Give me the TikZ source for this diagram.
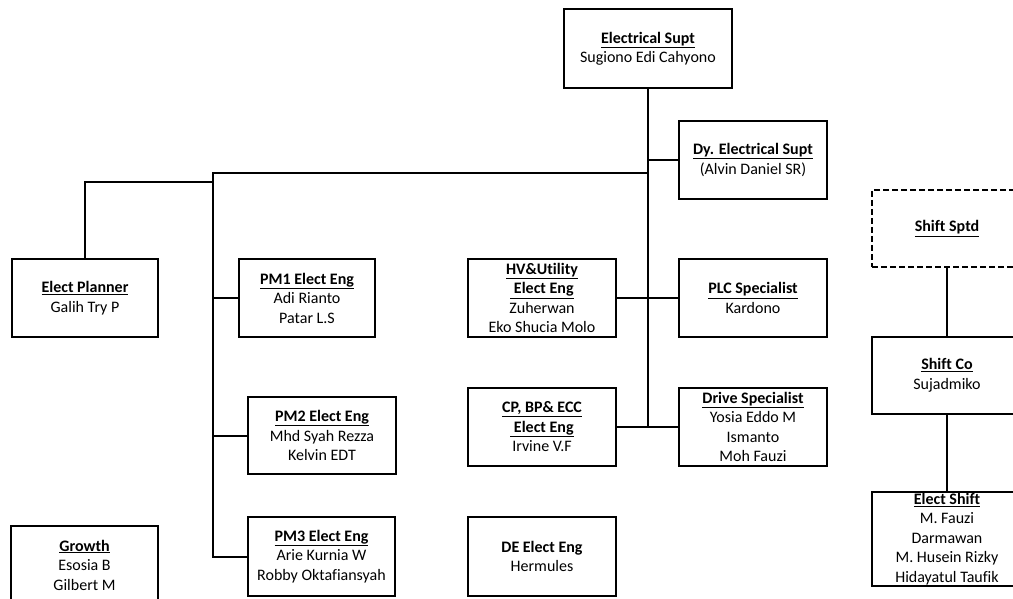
\documentclass[tikz,border=0pt]{standalone}
\usepackage{fontspec}
\setmainfont{Carlito}[Ligatures=CommonOff]
\newcommand{\hd}[1]{\underline{\textbf{#1}}}
\begin{document}
\begin{tikzpicture}[x=1pt, y=-1pt, line width=2pt,
  post/.style={draw, rectangle, align=center, inner sep=0pt,
    font=\fontsize{16}{19.5}\selectfont}]
  \useasboundingbox (0,0) rectangle (1013,599);
  \clip (0,0) rectangle (1013,599);
  % top of the tree
  \node[post, minimum width=168, minimum height=79] (supt) at(564+84,8+41){\hd{Electrical Supt}\\Sugiono Edi Cahyono};
  \node[post, minimum width=148, minimum height=78] (dysupt) at(679+74,121+39){\hd{Dy. Electrical Supt}\\(Alvin Daniel SR)};
  % left column
  \node[post, minimum width=146, minimum height=78] (planner) at(12+73,259+39){\hd{Elect Planner}\\Galih Try P};
  \node[post, minimum width=147, minimum height=78] (growth) at(11+73.5,526+39){\hd{Growth}\\Esosia B\\Gilbert M};
  % project engineers
  \node[post, minimum width=136, minimum height=78] (pmone) at(239+68,259+39){\hd{PM1 Elect Eng}\\Adi Rianto\\Patar L.S};
  \node[post, minimum width=148, minimum height=77] (pmtwo) at(248+74,397+38.5){\hd{PM2 Elect Eng}\\Mhd Syah Rezza\\Kelvin EDT};
  \node[post, minimum width=147, minimum height=79] (pmthree) at(248+73.5,517+39.5){\hd{PM3 Elect Eng}\\Arie Kurnia W\\Robby Oktafiansyah};
  % plant engineers
  \node[post, minimum width=148, minimum height=78] (hv) at(468+74,259+39){\hd{HV\&Utility}\\\hd{\ Elect Eng}\\Zuherwan\\Eko Shucia Molo};
  \node[post, minimum width=148, minimum height=78] (cp) at(468+74,388+39){\hd{CP, BP\& ECC}\\\hd{\ Elect Eng}\\Irvine V.F};
  \node[post, minimum width=148, minimum height=79] (de) at(468+74,517+39.5){\textbf{DE Elect Eng}\\Hermules};
  % specialists
  \node[post, minimum width=148, minimum height=78] (plc) at(679+74,259+39){\hd{PLC Specialist}\\Kardono};
  \node[post, minimum width=148, minimum height=78] (drive) at(679+74,388+39){\hd{Drive Specialist}\\Yosia Eddo M\\Ismanto\\Moh Fauzi};
  % shift team
  \node[post, dash pattern=on 6pt off 3pt, minimum width=150, minimum height=77] (sptd) at(872+75,190+38.5){\hd{Shift Sptd}};
  \node[post, minimum width=150, minimum height=77] (shiftco) at(872+75,337+38.5){\hd{Shift Co}\\Sujadmiko};
  \node[post, minimum width=150, minimum height=94] (eshift) at(872+75,492+47){\hd{Elect Shift}\\M. Fauzi\\Darmawan\\M. Husein Rizky\\Hidayatul Taufik};
  % lines
  \coordinate (split) at(213,173);
  \coordinate (fork) at(213,182);
  \draw (supt.south) -- (supt.south |- drive.west) -- (drive.west);
  \draw (dysupt.west) -- (supt.south |- dysupt.west);
  \draw (supt.south |- split) -- (split) -- (split |- pmthree.west) -- (pmthree.west);
  \draw (fork) -| (planner.north);
  \draw (split |- pmone.west) -- (pmone.west);
  \draw (split |- pmtwo.west) -- (pmtwo.west);
  \draw (hv.east) -- (plc.west);
  \draw (cp.east) -- (drive.west);
  \draw (sptd.south) -- (shiftco.north);
  \draw (shiftco.south) -- (eshift.north);
\end{tikzpicture}
\end{document}
